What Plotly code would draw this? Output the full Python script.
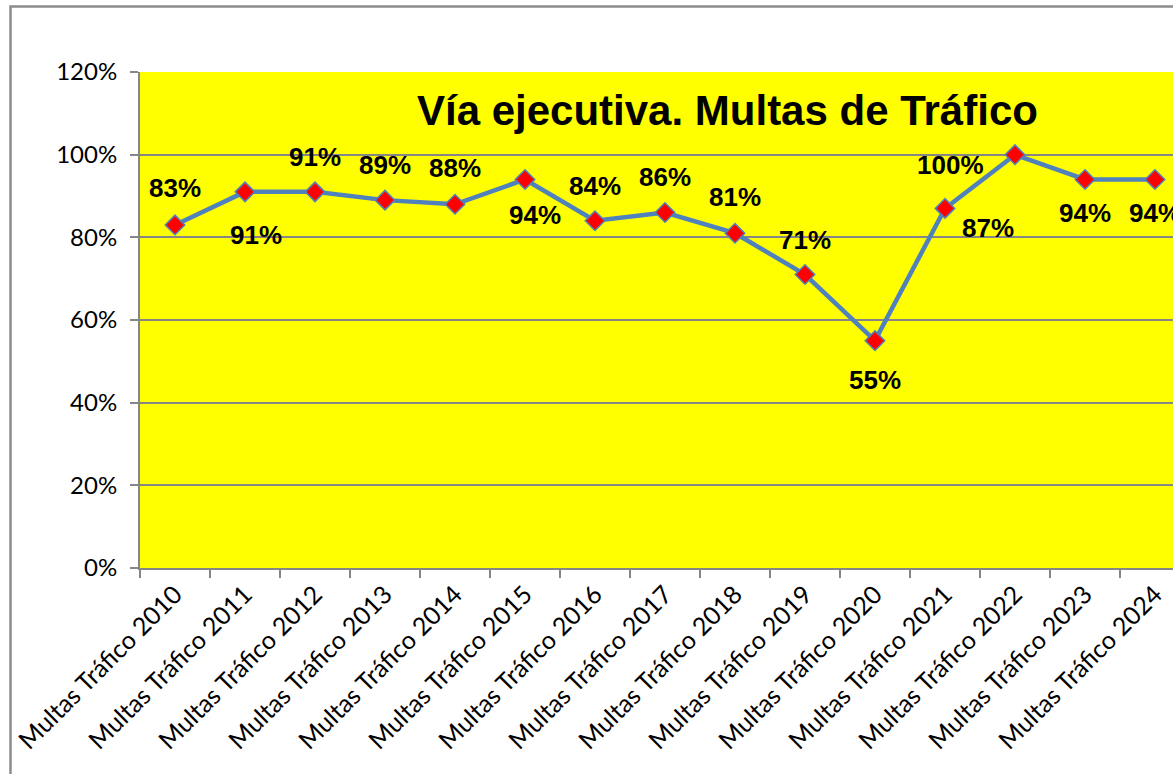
import plotly.graph_objects as go

categories = ["Multas Tráfico 2010", "Multas Tráfico 2011", "Multas Tráfico 2012",
              "Multas Tráfico 2013", "Multas Tráfico 2014", "Multas Tráfico 2015",
              "Multas Tráfico 2016", "Multas Tráfico 2017", "Multas Tráfico 2018",
              "Multas Tráfico 2019", "Multas Tráfico 2020", "Multas Tráfico 2021",
              "Multas Tráfico 2022", "Multas Tráfico 2023", "Multas Tráfico 2024"]
values = [83, 91, 91, 89, 88, 94, 84, 86, 81, 71, 55, 87, 100, 94, 94]
y_ticks = [0, 20, 40, 60, 80, 100, 120]
y_tick_labels = ["0%", "20%", "40%", "60%", "80%", "100%", "120%"]
title_text = "Vía ejecutiva. Multas de Tráfico"

# label offsets in pixels (style / placement only)
label_dx = [0, 11, 0, 0, 0, 10, 0, 0, 0, 0, 0, 43, -65, 0, 0]
label_dy = [37, -43, 35, 35, 36, -36, 35, 36, 36, 35, -39, -20, -10, -34, -34]

W, H = 1173, 774
L, T, B, R = 140, 72, 206, 0
plot_w = W - L - R
plot_h = H - T - B
band = 70.0

fig = go.Figure()
fig.add_trace(go.Scatter(
    x=categories, y=values, mode="lines+markers",
    line=dict(color="#4F81BD", width=4.5),
    marker=dict(symbol="diamond", size=15, color="#FF0000",
                line=dict(color="#4F81BD", width=1.5)),
    hoverinfo="x+y", showlegend=False,
))

for c, v, dx, dy in zip(categories, values, label_dx, label_dy):
    fig.add_annotation(x=c, y=v, text=f"<b>{v}%</b>", showarrow=False,
                       xshift=dx, yshift=dy,
                       font=dict(family="Liberation Sans, Arial", size=26, color="black"),
                       xanchor="center", yanchor="middle")

fig.add_annotation(x=(727 - L) / plot_w, y=(H - B - 110) / plot_h, xref="paper", yref="paper",
                   text=f"<b>{title_text}</b>", showarrow=False,
                   font=dict(family="Liberation Sans, Arial", size=42, color="black"),
                   xanchor="center", yanchor="middle")

# outer chart border (left and top edges visible)
bx = (10.5 - L) / plot_w
by = (H - B - 6.5) / plot_h
fig.add_shape(type="path", xref="paper", yref="paper",
              path=f"M {bx} -0.6 L {bx} {by} L 1.2 {by}",
              line=dict(color="#8C8C8C", width=2.5))

x_end = -0.5 + plot_w / band

fig.update_layout(
    width=W, height=H,
    margin=dict(l=L, r=R, t=T, b=B, pad=0),
    paper_bgcolor="white", plot_bgcolor="#FFFF00",
    font=dict(family="Lato, Liberation Sans", color="black"),
    xaxis=dict(type="category", range=[-0.5, x_end], tickson="boundaries",
               ticks="outside", ticklen=8, tickcolor="#868686", tickwidth=2,
               showline=True, linecolor="#868686", linewidth=2,
               showgrid=False, tickangle=-45,
               tickfont=dict(family="Lato, Liberation Sans", size=25, color="black")),
    yaxis=dict(range=[0, 120], tickmode="array", tickvals=y_ticks, ticktext=y_tick_labels,
               ticks="outside", ticklen=8, tickcolor="#868686", tickwidth=2,
               ticklabelstandoff=8,
               showline=True, linecolor="#868686", linewidth=2,
               showgrid=True, gridcolor="#868686", gridwidth=1.5,
               zeroline=False,
               tickfont=dict(family="Lato, Liberation Sans", size=24, color="black")),
)

fig.write_html("out.html", config={"displayModeBar": False},
               post_script="document.body.style.margin='0';document.body.style.overflow='hidden';")
